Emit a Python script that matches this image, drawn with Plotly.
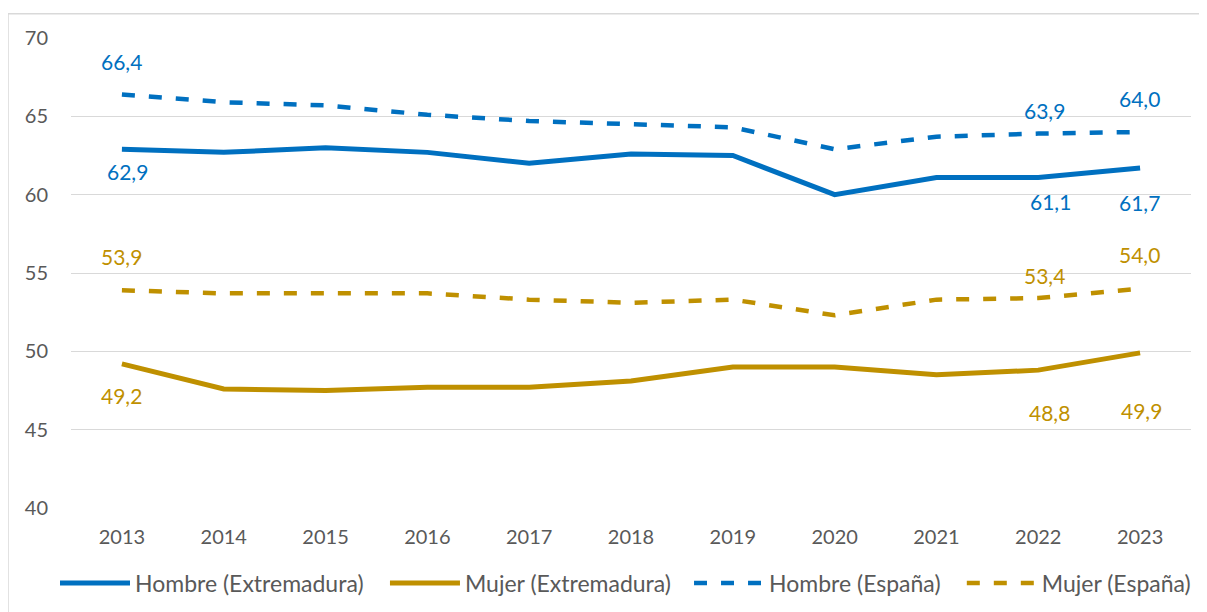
import plotly.graph_objects as go

years = ["2013", "2014", "2015", "2016", "2017", "2018", "2019", "2020", "2021", "2022", "2023"]
hombre_ext = [62.9, 62.7, 63.0, 62.7, 62.0, 62.6, 62.5, 60.0, 61.1, 61.1, 61.7]
mujer_ext = [49.2, 47.6, 47.5, 47.7, 47.7, 48.1, 49.0, 49.0, 48.5, 48.8, 49.9]
hombre_esp = [66.4, 65.9, 65.7, 65.1, 64.7, 64.5, 64.3, 62.9, 63.7, 63.9, 64.0]
mujer_esp = [53.9, 53.7, 53.7, 53.7, 53.3, 53.1, 53.3, 52.3, 53.3, 53.4, 54.0]
labelled_years = ["2013", "2022", "2023"]
y_ticks = [40, 45, 50, 55, 60, 65, 70]

BLUE = "#0070C0"
GOLD = "#BF9000"
FONT = "Lato"

fig = go.Figure()
series = [
    ("Hombre (Extremadura)", hombre_ext, BLUE, "solid", 5),
    ("Mujer (Extremadura)", mujer_ext, GOLD, "solid", 5),
    ("Hombre (España)", hombre_esp, BLUE, "13px,14px", 4.5),
    ("Mujer (España)", mujer_esp, GOLD, "13px,14px", 4.5),
]
legend_ids = ["legend", "legend2", "legend3", "legend4"]
legend_x = [0.0392, 0.3144, 0.568, 0.7955]

for (name, vals, col, dash, w), lid in zip(series, legend_ids):
    fig.add_trace(go.Scatter(x=years, y=vals, mode="lines", name=name, legend=lid,
                             line=dict(color=col, width=w, dash=dash)))

# label offsets (pixels) per series for 2013, 2022, 2023
offsets = {
    "Hombre (Extremadura)": [(6, -22), (12, -24), (-1, -34)],
    "Mujer (Extremadura)": [(0, -32), (11, -42), (1, -58)],
    "Hombre (España)": [(0, 33), (6, 23), (-1, 34)],
    "Mujer (España)": [(0, 34), (6, 23), (-1, 34)],
}
annotations = []
for name, vals, col, dash, w in series:
    for (xs, ys), yr in zip(offsets[name], labelled_years):
        i = years.index(yr)
        v = vals[i]
        annotations.append(dict(x=i, y=v, xref="x", yref="y", showarrow=False,
                                text=f"{v:.1f}".replace(".", ","),
                                font=dict(family=FONT, size=21, color=col),
                                xshift=xs, yshift=ys))

border = dict(type="rect", xref="paper", yref="paper", layer="below",
              x0=-0.05625, x1=1.2, y0=-0.4, y1=1.0515,
              line=dict(color="#D9D9D9", width=1.5))

legend_style = dict(orientation="h", xref="container", yref="container",
                    xanchor="left", y=0.048, yanchor="middle",
                    font=dict(family=FONT, size=23, color="#595959"),
                    itemwidth=70, bgcolor="rgba(0,0,0,0)")

layout_legends = {lid: dict(legend_style, x=lx) for lid, lx in zip(legend_ids, legend_x)}

fig.update_layout(
    width=1199, height=604,
    margin=dict(l=63, r=16, t=30, b=104),
    paper_bgcolor="white", plot_bgcolor="white",
    font=dict(family=FONT, size=20, color="#595959"),
    showlegend=True,
    annotations=annotations,
    shapes=[border],
    **layout_legends,
)
fig.update_xaxes(type="category", range=[-0.5, 10.5], showgrid=False, showline=False,
                 zeroline=False, ticks="", ticklabelstandoff=15,
                 tickfont=dict(family=FONT, size=20, color="#595959"))
fig.update_yaxes(range=[40, 70], tickvals=y_ticks, showgrid=True, gridcolor="#D9D9D9",
                 gridwidth=1.3, zeroline=False, showline=False, ticks="",
                 ticklabelstandoff=22,
                 tickfont=dict(family=FONT, size=20, color="#595959"))

fig.write_html("out.html")
